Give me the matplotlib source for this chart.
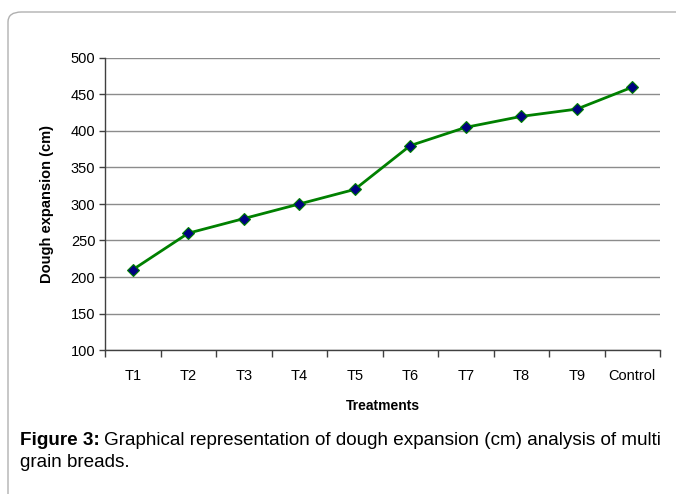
import matplotlib
matplotlib.use("Agg")
import matplotlib.pyplot as plt
from matplotlib.patches import FancyBboxPatch
import numpy as np

plt.rcParams['font.family'] = ['Liberation Sans', 'DejaVu Sans']

treatments = ['T1', 'T2', 'T3', 'T4', 'T5', 'T6', 'T7', 'T8', 'T9', 'Control']
expansion = [210, 260, 280, 300, 320, 380, 405, 420, 430, 460]

fig = plt.figure(figsize=(6.76, 4.94), dpi=100)

# rounded frame around the figure
frame = FancyBboxPatch((8 / 676, -0.1), 1.2, 1 - 12 / 494 + 0.1,
                       boxstyle="round,pad=0,rounding_size=0.02",
                       transform=fig.transFigure, facecolor='white',
                       edgecolor='#b0b0b0', linewidth=1.0, zorder=-5)
fig.patches.append(frame)

ax = fig.add_axes([105 / 676, 1 - 350 / 494, 555 / 676, 292 / 494])
ax.set_facecolor('none')
ax.set_zorder(2)
x = np.arange(len(treatments))
ax.plot(x, expansion, color='#008000', linewidth=2, marker='D', markersize=6.5,
        markerfacecolor='#000080', markeredgecolor='#008000', markeredgewidth=0.8, zorder=3)

ax.set_xlim(-0.5, len(treatments) - 0.5)
ax.set_ylim(100, 500)
ax.set_yticks(range(100, 501, 50))
ax.set_xticks(np.arange(-0.5, len(treatments), 1))
ax.set_xticklabels([])
ax.set_xticks(x, minor=True)
ax.set_xticklabels(treatments, minor=True)
ax.tick_params(axis='x', which='minor', length=0, pad=14, labelsize=10.5)
ax.tick_params(axis='x', which='major', length=5, width=1, color='#404040')
ax.tick_params(axis='y', length=4, width=1, color='#404040', labelsize=10.5, pad=3)

ax.grid(axis='y', color='#8c8c8c', linewidth=1)
for s in ['top', 'right']:
    ax.spines[s].set_visible(False)
for s in ['left', 'bottom']:
    ax.spines[s].set_color('#404040')
    ax.spines[s].set_linewidth(1)

ax.set_xlabel('Treatments', fontsize=10, fontweight='bold', labelpad=11)
ax.set_ylabel('Dough expansion (cm)', fontsize=10.5, fontweight='bold', labelpad=12)

t1 = fig.text(20 / 676, 1 - 440 / 494, 'Figure 3:', fontsize=13.6, fontweight='bold', va='center')
fig.canvas.draw()
bb = t1.get_window_extent()
fig.text((bb.x1 + 4) / 676, 1 - 440 / 494,
         'Graphical representation of dough expansion (cm) analysis of multi',
         fontsize=13.6, va='center')
fig.text(20 / 676, 1 - 462 / 494, 'grain breads.', fontsize=13.6, va='center')

fig.savefig('out.png', dpi=100)
